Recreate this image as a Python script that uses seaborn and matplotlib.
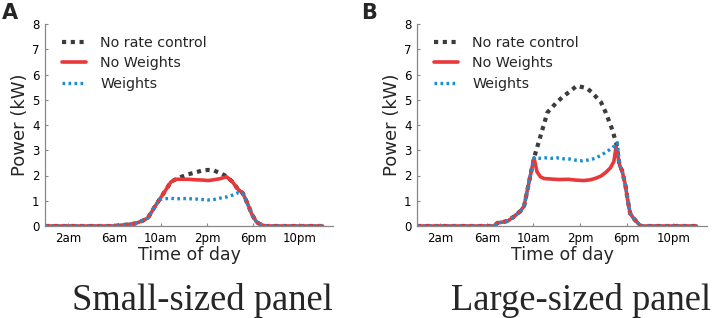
import matplotlib
matplotlib.use("Agg")
import matplotlib.pyplot as plt
import seaborn as sns
import pandas as pd

# ---- data (hours of day, kW) ----
tick_pos = [2, 6, 10, 14, 18, 22]
tick_labels = ["2am", "6am", "10am", "2pm", "6pm", "10pm"]
series_names = ["No rate control", "No Weights", "Weights"]

# Panel A: small-sized panel
a_none_t = [0, 6, 6.5, 7.2, 7.8, 8.4, 8.9, 9.4, 9.9, 10.4, 10.9, 11.3, 11.8, 12.4, 13.0, 13.6, 14.1, 14.6, 15.1, 15.7, 16.2, 16.7, 17.1, 17.5, 17.9, 18.3, 18.7, 19.1, 24]
a_none_v = [0, 0, 0.03, 0.06, 0.1, 0.2, 0.32, 0.7, 1.05, 1.4, 1.75, 1.85, 1.95, 2.05, 2.12, 2.2, 2.22, 2.2, 2.1, 1.97, 1.75, 1.45, 1.3, 0.9, 0.45, 0.15, 0.05, 0.0, 0]
a_now_t = [0, 6, 6.5, 7.2, 7.8, 8.4, 8.9, 9.4, 9.9, 10.4, 10.9, 11.3, 11.8, 12.4, 13.0, 13.6, 14.1, 14.6, 15.1, 15.7, 16.2, 16.7, 17.1, 17.5, 17.9, 18.3, 18.7, 19.1, 24]
a_now_v = [0, 0, 0.03, 0.06, 0.1, 0.2, 0.32, 0.7, 1.05, 1.4, 1.75, 1.85, 1.85, 1.85, 1.83, 1.82, 1.8, 1.83, 1.87, 1.95, 1.75, 1.45, 1.3, 0.9, 0.45, 0.15, 0.05, 0.0, 0]
a_w_t = [0, 6, 6.5, 7.2, 7.8, 8.4, 8.9, 9.4, 9.9, 10.4, 10.9, 11.3, 11.8, 12.4, 13.0, 13.6, 14.1, 14.6, 15.1, 15.7, 16.2, 16.7, 17.1, 17.5, 17.9, 18.3, 18.7, 19.1, 24]
a_w_v = [0, 0, 0.03, 0.06, 0.1, 0.2, 0.32, 0.7, 1.05, 1.08, 1.1, 1.07, 1.09, 1.08, 1.07, 1.05, 1.03, 1.05, 1.1, 1.15, 1.22, 1.32, 1.3, 0.9, 0.45, 0.15, 0.05, 0.0, 0]

# Panel B: large-sized panel
b_none_t = [0, 6.6, 6.9, 7.3, 7.8, 8.4, 8.9, 9.2, 9.6, 10.05, 10.5, 11.2, 11.6, 12.0, 12.6, 13.2, 13.7, 14.2, 14.6, 15.0, 15.4, 15.8, 16.2, 16.7, 17.1, 17.4, 17.6, 17.9, 18.1, 18.3, 18.6, 18.9, 19.2, 24]
b_none_v = [0, 0, 0.12, 0.15, 0.2, 0.4, 0.6, 0.8, 1.7, 2.7, 3.4, 4.5, 4.7, 4.9, 5.15, 5.35, 5.55, 5.5, 5.45, 5.3, 5.1, 4.9, 4.5, 3.9, 3.3, 2.4, 2.2, 1.6, 1.0, 0.5, 0.3, 0.15, 0.0, 0]
b_now_t = [0, 6.6, 6.9, 7.3, 7.8, 8.4, 8.9, 9.2, 9.6, 10.05, 10.3, 10.6, 10.9, 11.5, 12.2, 13.0, 13.6, 14.3, 14.9, 15.4, 15.8, 16.2, 16.6, 16.9, 17.1, 17.4, 17.6, 17.9, 18.1, 18.3, 18.6, 18.9, 19.2, 24]
b_now_v = [0, 0, 0.12, 0.15, 0.2, 0.4, 0.6, 0.8, 1.7, 2.7, 2.15, 1.95, 1.88, 1.86, 1.84, 1.85, 1.82, 1.8, 1.83, 1.9, 1.98, 2.12, 2.3, 2.55, 3.15, 2.4, 2.2, 1.6, 1.0, 0.5, 0.3, 0.15, 0.0, 0]
b_w_t = [0, 6.6, 6.9, 7.3, 7.8, 8.4, 8.9, 9.2, 9.6, 10.05, 10.5, 11.0, 11.5, 12.0, 12.6, 13.2, 13.7, 14.2, 14.8, 15.3, 15.8, 16.3, 16.8, 17.2, 17.4, 17.6, 17.9, 18.1, 18.3, 18.6, 18.9, 19.2, 24]
b_w_v = [0, 0, 0.12, 0.15, 0.2, 0.4, 0.6, 0.8, 1.7, 2.7, 2.68, 2.7, 2.68, 2.7, 2.66, 2.65, 2.6, 2.58, 2.62, 2.68, 2.8, 2.95, 3.1, 3.3, 2.4, 2.2, 1.6, 1.0, 0.5, 0.3, 0.15, 0.0, 0]

captions = ["Small-sized panel", "Large-sized panel"]
panel_letters = ["A", "B"]

sns.set_style("ticks")
plt.rcParams['font.family'] = ['DejaVu Sans']

fig = plt.figure(figsize=(7.13, 3.18), dpi=100)
ax_a = fig.add_axes([45/713, 1-226/318, (333-45)/713, (226-24)/318])
ax_b = fig.add_axes([417/713, 1-226/318, (707-417)/713, (226-24)/318])

styles = {
    "No rate control": dict(color="#3c3c3c", linestyle=(0, (1.0, 1.1)), linewidth=3.0),
    "No Weights": dict(color="#e8383a", linestyle="-", linewidth=2.6),
    "Weights": dict(color="#1a8fcf", linestyle=(0, (0.8, 1.0)), linewidth=2.4),
}

panels = [
    (ax_a, [(a_none_t, a_none_v), (a_now_t, a_now_v), (a_w_t, a_w_v)]),
    (ax_b, [(b_none_t, b_none_v), (b_now_t, b_now_v), (b_w_t, b_w_v)]),
]

for i, (ax, data) in enumerate(panels):
    for name, (t, v) in zip(series_names, data):
        sns.lineplot(x=t, y=v, ax=ax, label=name, **styles[name])
    ax.set_xlim(0, 24.9)
    ax.set_ylim(0, 8)
    ax.set_xticks(tick_pos)
    ax.set_xticklabels(tick_labels)
    ax.set_yticks(range(0, 9))
    ax.tick_params(labelsize=8.5, length=2.5, width=0.8, direction="in",
                   colors="#888888", labelcolor="black", pad=4)
    for s in ["left", "bottom"]:
        ax.spines[s].set_color("#888888")
        ax.spines[s].set_linewidth(0.9)
    sns.despine(ax=ax)
    ax.set_xlabel("Time of day", fontsize=12.5, labelpad=1)
    ax.set_ylabel("Power (kW)", fontsize=13, labelpad=2)
    leg = ax.legend(loc="upper left", frameon=False, fontsize=10.3, handlelength=1.65,
                    handletextpad=1.0, borderaxespad=0.3, labelspacing=0.45,
                    bbox_to_anchor=(0.025, 0.99))

fig.text(2/713, 1-3/318, "A", fontsize=15, fontweight="bold", va="top", ha="left")
fig.text(361/713, 1-3/318, "B", fontsize=15, fontweight="bold", va="top", ha="left")
fig.text(202/713, 1-310/318, captions[0], fontsize=26.3, family="Liberation Serif",
         ha="center", va="baseline")
fig.text(581/713, 1-310/318, captions[1], fontsize=26.3, family="Liberation Serif",
         ha="center", va="baseline")

fig.savefig("out.png", dpi=100)
